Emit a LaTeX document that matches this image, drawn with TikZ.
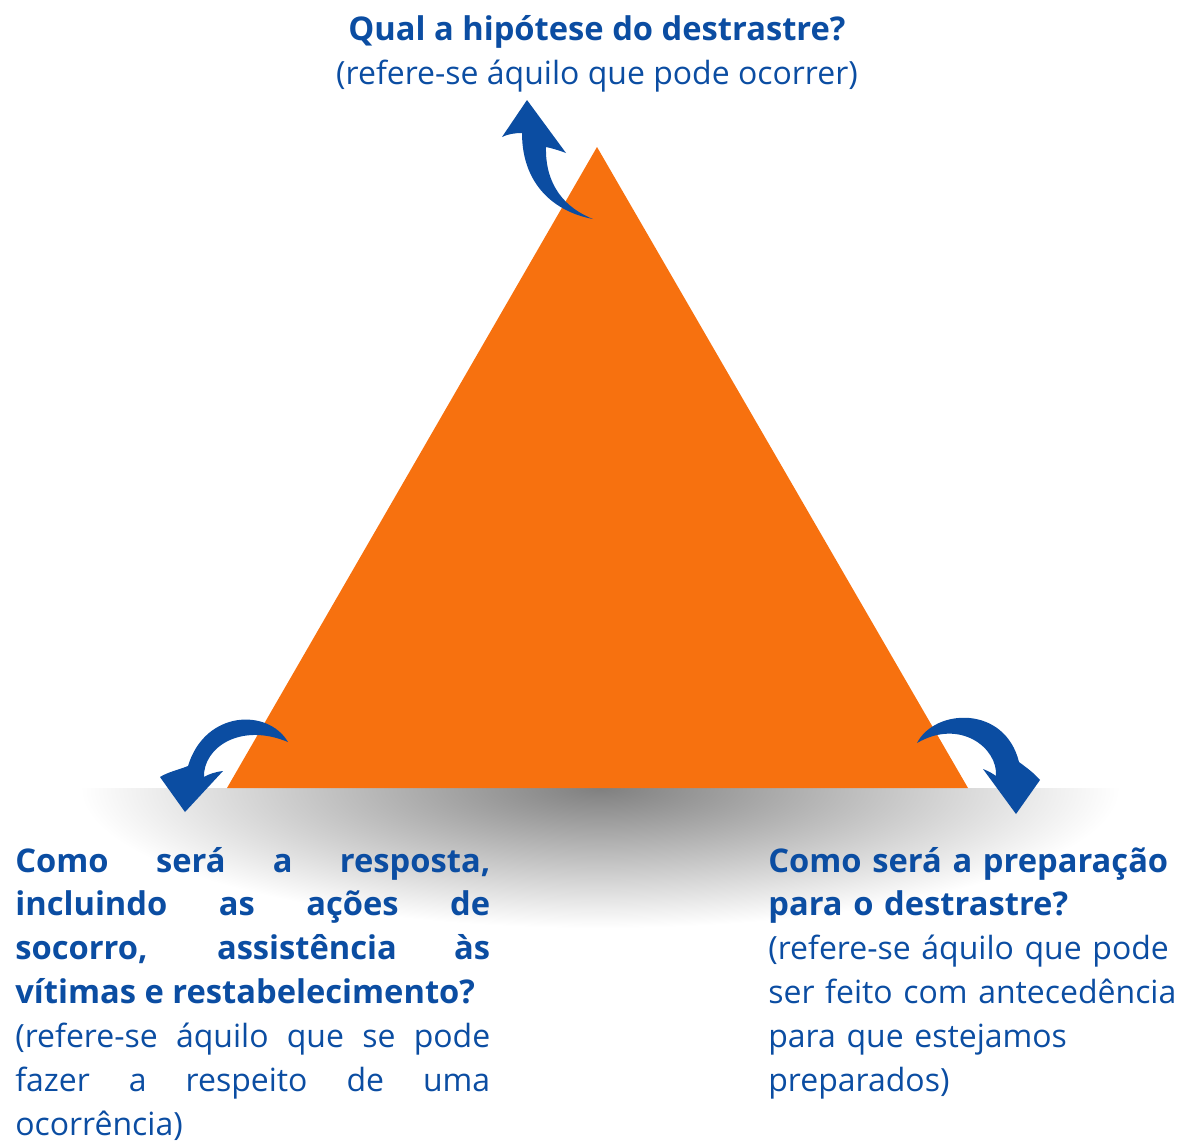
\documentclass[tikz,border=0pt]{standalone}
\usepackage{fontspec}
\setmainfont{Open Sans}
\definecolor{azul}{HTML}{0B4DA2}
\definecolor{laranja}{HTML}{F7710F}
\newcommand{\negrito}{\fontsize{18.6}{25}\selectfont\bfseries}

\begin{document}
\begin{tikzpicture}[x=0.02cm,y=-0.02cm,
  texto/.style={inner sep=0pt,text=azul,font=\fontsize{18.2}{25}\selectfont},
  titulo/.style={texto,font=\negrito},
  seta/.style={fill=azul}]

\useasboundingbox (0,0) rectangle (1180,1140);

% Sombra
\begin{scope}
\clip (0,788) rectangle (1180,1140);
\shade[inner color=black!50,outer color=white] (600,788) ellipse (520 and 140);
\end{scope}

% Triangulo
\coordinate (A) at (597,147);
\coordinate (B) at (227,788);
\coordinate (C) at (968,788);
\fill[laranja] (A) -- (C) -- (B) -- cycle;

% Setas
\fill[seta] (593,219) .. controls (555,212) and (522,185) .. (522,133) .. controls (515,133) and (508,134) .. (502,137) -- (527,100) -- (566,153) .. controls (558,150) and (551,148) .. (546,147) .. controls (545,185) and (565,208) .. (593,219) -- cycle;
\fill[seta] (288,742) .. controls (268,708) and (205,710) .. (188,766) .. controls (178,770) and (168,772) .. (160,777) -- (185,812) -- (223,771) .. controls (215,772) and (209,774) .. (204,777) .. controls (203,748) and (240,722) .. (288,742) -- cycle;
\fill[seta] (917,743) .. controls (935,708) and (1005,705) .. (1019,762) .. controls (1027,768) and (1034,773) .. (1040,780) -- (1016,814) -- (983,769) .. controls (988,771) and (992,773) .. (996,776) .. controls (998,748) and (960,718) .. (917,743) -- cycle;

% Textos
\node[titulo,anchor=base] (hipotese) at (597,40) {Qual a hipótese do destrastre?};
\node[texto,anchor=base] (ocorrer) at (597,84) {(refere-se áquilo que pode ocorrer)};

\node[texto,anchor=base west,text width=9.5cm,align=justify] (resposta) at (15,872)
  {{\negrito Como será a resposta,\linebreak incluindo as ações de\linebreak socorro, assistência às\linebreak vítimas e restabelecimento?\par}
  (refere-se áquilo que se pode\linebreak fazer a respeito de uma\linebreak ocorrência)};

\node[texto,anchor=base west,text width=8.2cm,align=left] (preparacao) at (768,872)
  {{\negrito Como será a preparação\\ para o destrastre?}\\ (refere-se áquilo que pode\\ ser feito com antecedência\\ para que estejamos\\ preparados)};

\end{tikzpicture}
\end{document}
